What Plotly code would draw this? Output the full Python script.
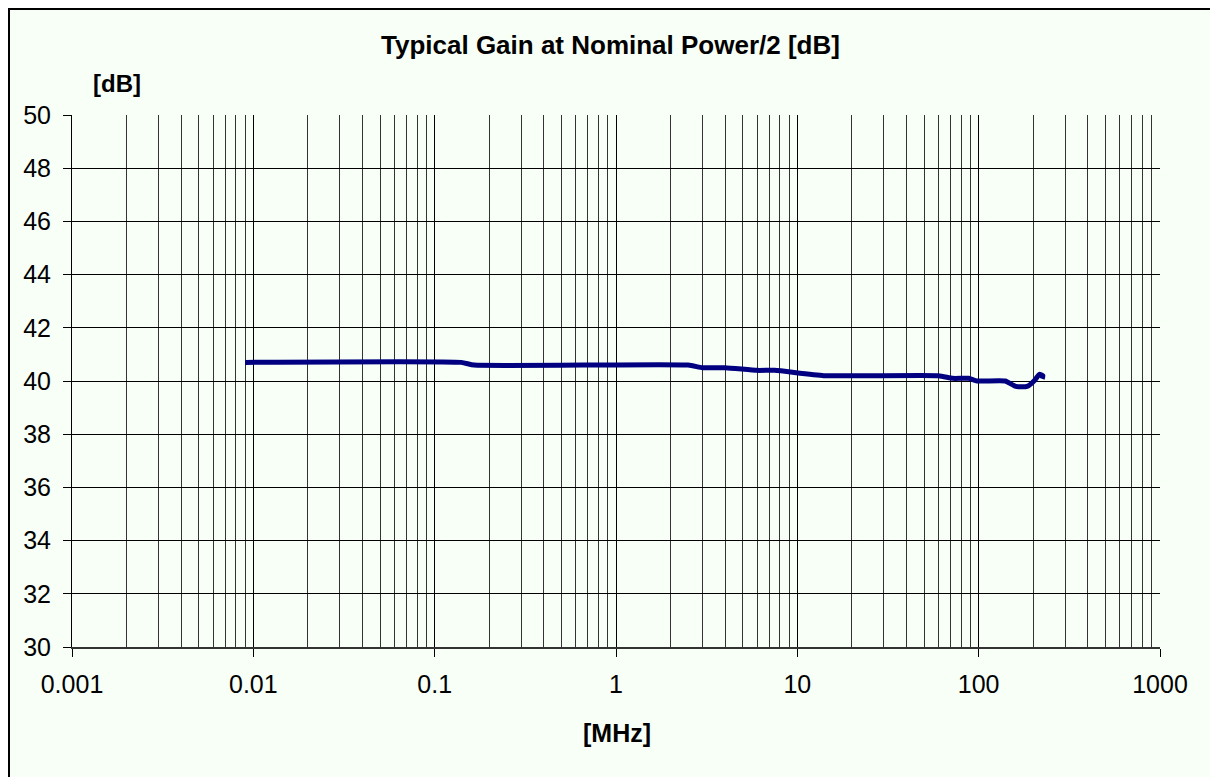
import plotly.graph_objects as go

# Data
freq_mhz = [0.009, 0.14, 0.165, 2.5, 3.0, 4.0, 6.0, 7.5, 14, 60, 72, 88, 98, 140, 160, 185, 205, 216, 226, 224]
gain_db = [40.7, 40.7, 40.6, 40.6, 40.5, 40.5, 40.4, 40.4, 40.2, 40.2, 40.1, 40.1, 40.0, 40.0, 39.8, 39.8, 40.05, 40.25, 40.2, 40.08]

x_tick_vals = [0.001, 0.01, 0.1, 1, 10, 100, 1000]
x_tick_text = ["0.001", "0.01", "0.1", "1", "10", "100", "1000"]
y_tick_vals = [30, 32, 34, 36, 38, 40, 42, 44, 46, 48, 50]

title_text = "Typical Gain at Nominal Power/2 [dB]"
y_unit = "[dB]"
x_unit = "[MHz]"

BG = "#F7FFF7"
FONT = "Liberation Sans, Arial, sans-serif"

minor_vals = [m * 10 ** e for e in range(-3, 3) for m in range(2, 10)]

fig = go.Figure()
fig.add_trace(go.Scatter(
    x=freq_mhz, y=gain_db, mode="lines",
    line=dict(color="#000080", width=5, shape="spline", smoothing=0.5),
    hoverinfo="x+y", showlegend=False,
))

fig.update_layout(
    width=1210, height=769,
    margin=dict(l=64, r=58, t=107, b=130, pad=0),
    paper_bgcolor=BG, plot_bgcolor=BG,
    font=dict(family=FONT, color="black", size=24),
    showlegend=False,
    xaxis=dict(
        type="log", range=[-3, 3],
        tickvals=x_tick_vals, ticktext=x_tick_text,
        ticks="outside", ticklen=8, tickcolor="black", tickwidth=1,
        ticklabelstandoff=6,
        showgrid=True, gridcolor="black", gridwidth=1,
        showline=True, linecolor="#333", linewidth=2,
        zeroline=False,
        tickfont=dict(size=25, family=FONT, color="black"),
        minor=dict(tickvals=minor_vals, showgrid=True, gridcolor="#333", gridwidth=1, ticks=""),
    ),
    yaxis=dict(
        range=[30, 50],
        tickvals=y_tick_vals,
        ticks="outside", ticklen=8, tickcolor="black", tickwidth=1,
        ticklabelstandoff=7,
        showgrid=True, gridcolor="black", gridwidth=1,
        showline=True, linecolor="black", linewidth=1,
        zeroline=False,
        tickfont=dict(size=25, family=FONT, color="black"),
    ),
    annotations=[
        dict(text="<b>" + title_text + "</b>", xref="paper", yref="paper",
             x=0.4945, y=1.1316, xanchor="center", yanchor="middle",
             showarrow=False, font=dict(size=26, family=FONT, color="black")),
        dict(text="<b>" + y_unit + "</b>", xref="paper", yref="paper",
             x=0.0414, y=1.060, xanchor="center", yanchor="middle",
             showarrow=False, font=dict(size=24, family=FONT, color="black")),
        dict(text="<b>" + x_unit + "</b>", xref="paper", yref="paper",
             x=0.5005, y=-0.1617, xanchor="center", yanchor="middle",
             showarrow=False, font=dict(size=25, family=FONT, color="black")),
    ],
    shapes=[
        dict(type="rect", xref="paper", yref="paper",
             x0=-0.0579, x1=1.0496, y0=-0.26, y1=1.1992,
             line=dict(color="black", width=2), fillcolor="rgba(0,0,0,0)", layer="below"),
    ],
)

fig.write_html("out.html")
